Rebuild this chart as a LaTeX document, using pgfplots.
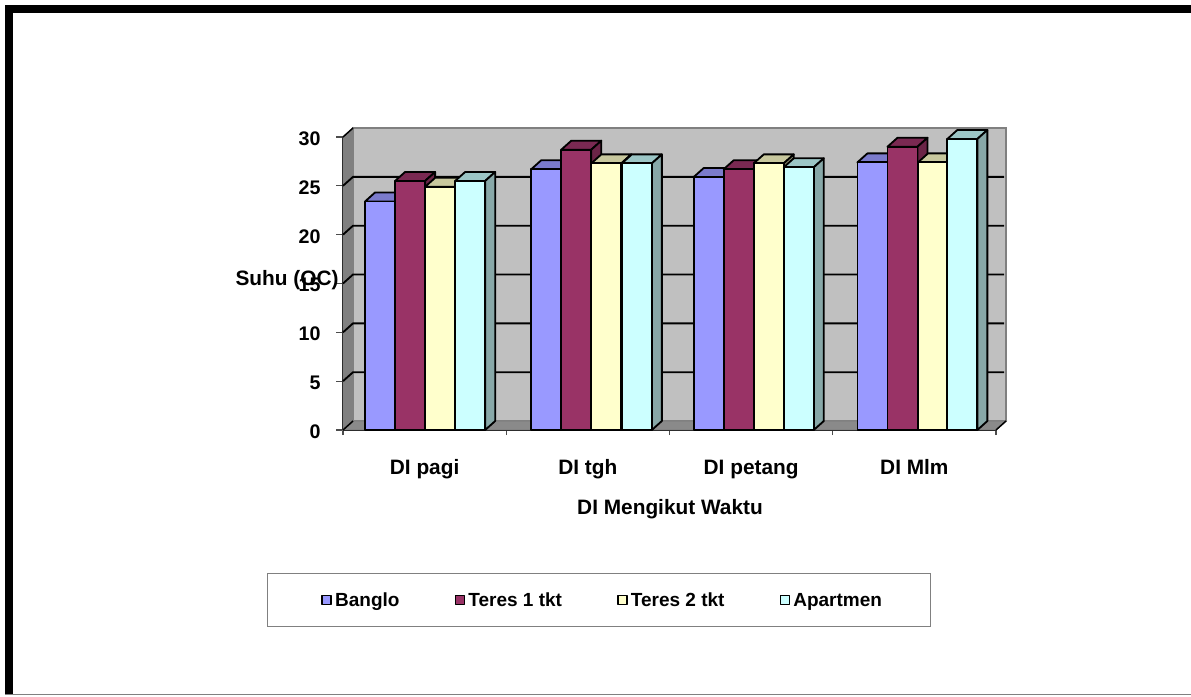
\documentclass[border=0pt]{standalone}
\usepackage{pgfplots}
\usepackage{pgfplotstable}
\pgfplotsset{compat=1.18}
\usepackage{fontspec}
\setmainfont{Liberation Sans}

\definecolor{bluef}{HTML}{9999FF}\definecolor{bluet}{HTML}{7B7BCC}\definecolor{blues}{HTML}{5F5F9E}
\definecolor{marf}{HTML}{993366}\definecolor{mart}{HTML}{7A2952}\definecolor{mars}{HTML}{6B2447}
\definecolor{yelf}{HTML}{FFFFCC}\definecolor{yelt}{HTML}{C8C89E}\definecolor{yels}{HTML}{8F8F72}
\definecolor{cyaf}{HTML}{CCFFFF}\definecolor{cyat}{HTML}{9CC6C6}\definecolor{cyas}{HTML}{88A8A8}
\definecolor{wall}{HTML}{C0C0C0}\definecolor{wallsh}{HTML}{808080}

% x = measured bar centre, in category units
\pgfplotstableread{
x y
-0.273 23.4
0.745 26.7
1.740 25.9
2.743 27.4
}\banglo
\pgfplotstableread{
x y
-0.089 25.5
0.929 28.7
1.924 26.7
2.927 29.0
}\teresa
\pgfplotstableread{
x y
0.095 24.9
1.113 27.3
2.108 27.3
3.114 27.4
}\teresb
\pgfplotstableread{
x y
0.279 25.5
1.300 27.3
2.292 26.9
3.294 29.8
}\apart

\def\dx{0.0613} % depth of the 3d look
\def\dy{0.92}
\def\hw{0.0919} % half a bar

% top and side faces of one series
\newcommand{\faces}[3]{%
  \pgfplotsinvokeforeach{0,1,2,3}{%
    \pgfplotstablegetelem{##1}{x}\of{#1}\let\bx\pgfplotsretval
    \pgfplotstablegetelem{##1}{y}\of{#1}\let\by\pgfplotsretval
    \pgfmathsetmacro\xl{\bx-\hw}\pgfmathsetmacro\xr{\bx+\hw}
    \pgfmathsetmacro\xlb{\xl+\dx}\pgfmathsetmacro\xrb{\xr+\dx}
    \pgfmathsetmacro\yb{\by+\dy}
    \addplot[forget plot,barline,fill=#2] coordinates {(\xl,\by) (\xlb,\yb) (\xrb,\yb) (\xr,\by)} --cycle;
    \addplot[forget plot,barline,fill=#3] coordinates {(\xr,0) (\xrb,\dy) (\xrb,\yb) (\xr,\by)} --cycle;
  }%
}

\begin{document}
\begin{tikzpicture}[font=\fontsize{12.5}{14}\selectfont\bfseries]
\useasboundingbox (0,0) rectangle (714.6pt,417.6pt);
% legend box
\draw[wallsh,line width=0.6pt] (160.2pt,41.4pt) rectangle (558pt,73.2pt);
\begin{axis}[
  at={(205.8pt,159.6pt)}, anchor=south west,
  scale only axis, width=391.8pt, height=175.8pt,
  clip=false,
  xmin=-0.5, xmax=3.5, ymin=0, ymax=30,
  axis x line=bottom, axis y line=left,
  axis line style={-,black,line width=1.3pt},
  tick align=outside,
  tick style={black!70,line width=0.7pt},
  major tick length=4pt, minor tick length=3pt,
  xtick={0,1,2,3},
  xticklabels={DI pagi,DI tgh,DI petang,DI Mlm},
  minor xtick={-0.5,0.5,1.5,2.5,3.5},
  x tick style={draw=none},
  minor x tick style={draw=black!70,line width=0.7pt},
  ytick={0,5,...,30},
  ticklabel style={font=\fontsize{12.5}{14}\selectfont\bfseries},
  yticklabel style={font=\fontsize{11.8}{14}\selectfont\bfseries,xshift=-6pt,yshift=-1pt},
  /pgf/number format/assume math mode=true,
  xticklabel style={text height=9pt,text depth=3pt,yshift=-10pt},
  xlabel={DI Mengikut Waktu},
  xlabel style={at={(axis description cs:0.5008,-0.27)},anchor=center,font=\fontsize{12.5}{14}\selectfont\bfseries},
  ylabel={Suhu (OC)},
  ylabel style={rotate=-90,at={(axis description cs:-0.0857,0.513)},anchor=center,font=\fontsize{12.5}{14}\selectfont\bfseries},
  barline/.style={draw=black,line width=1.1pt,line join=round},
  legsq/.style={area legend,legend image code/.code={\draw[##1,line width=0.9pt] (0pt,-2.7pt) rectangle (5.4pt,2.7pt);}},
  legend columns=4,
  legend style={at={(axis description cs:0.3987,-0.58)},anchor=center,
    draw=none,fill=none,inner xsep=30pt,inner ysep=8pt,
    font=\fontsize{11.4}{13}\selectfont\bfseries,
    /tikz/every even column/.append style={column sep=31pt}},
]
% walls and floor
\addplot[forget plot,draw=wallsh,line width=1.2pt,fill=wall] coordinates {(-0.4387,0.92) (3.5613,0.92) (3.5613,30.92) (-0.4387,30.92)} --cycle;
\addplot[forget plot,draw=wallsh,line width=0.6pt,fill=wallsh] coordinates {(-0.5,0) (-0.4387,0.92) (-0.4387,30.92) (-0.5,30)} --cycle;
\addplot[forget plot,draw=wallsh,line width=0.6pt,fill=wallsh!92!white] coordinates {(-0.5,0) (3.5,0) (3.5613,0.92) (-0.4387,0.92)} --cycle;
% gridlines, along the side wall and the back wall
\pgfplotsinvokeforeach{5,10,15,20,25}{
  \addplot[forget plot,black,line width=1.1pt] coordinates {(-0.5,#1) (-0.4387,#1+0.92) (3.55,#1+0.92)};
}
\addplot[forget plot,black,line width=0.9pt] coordinates {(-0.5,0) (-0.4387,0.92)};
\addplot[forget plot,black,line width=0.9pt] coordinates {(3.5613,0.92) (3.5,0)};
\addplot[forget plot,black,line width=0.9pt] coordinates {(-0.5,30) (-0.4387,30.92)};

\faces{\banglo}{bluet}{blues}
\addplot[ybar,bar width=18pt,barline,fill=bluef,legsq] table[x=x,y=y] {\banglo};
\addlegendentry{Banglo\strut}
\faces{\teresa}{mart}{mars}
\addplot[ybar,bar width=18pt,barline,fill=marf,legsq] table[x=x,y=y] {\teresa};
\addlegendentry{Teres 1 tkt\strut}
\faces{\teresb}{yelt}{yels}
\addplot[ybar,bar width=18pt,barline,fill=yelf,legsq] table[x=x,y=y] {\teresb};
\addlegendentry{Teres 2 tkt\strut}
\faces{\apart}{cyat}{cyas}
\addplot[ybar,bar width=18pt,barline,fill=cyaf,legsq] table[x=x,y=y] {\apart};
\addlegendentry{Apartmen\strut}
\end{axis}
% page frame
\fill[black] (3pt,409.8pt) rectangle (714.6pt,414.6pt);
\fill[black] (3pt,1pt) rectangle (7.8pt,414.6pt);
\fill[wallsh] (3pt,0.6pt) rectangle (714.6pt,1.4pt);
\end{tikzpicture}
\end{document}
